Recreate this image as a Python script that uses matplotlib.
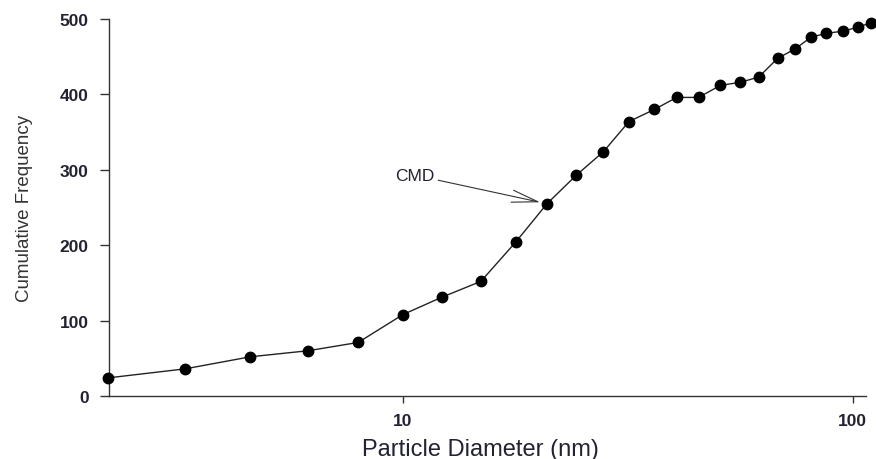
import matplotlib
matplotlib.use("Agg")
import matplotlib.pyplot as plt
from matplotlib.ticker import FixedLocator, NullLocator

plt.rcParams['font.family'] = ['Liberation Sans', 'DejaVu Sans']

# Data
diameter_nm = [2.21, 3.28, 4.58, 6.15, 7.95, 10.0, 12.2, 14.9, 17.8, 20.9,
               24.3, 27.9, 31.8, 36.2, 40.6, 45.4, 50.8, 56.2, 61.8, 68.1,
               74.3, 80.8, 87.4, 95.3, 102.5, 109.8]
cum_freq = [24, 36, 52, 60, 71, 108, 131, 152, 204, 255,
            293, 324, 364, 380, 396, 396, 412, 416, 423, 448,
            460, 476, 481, 484, 489, 495]
x_ticks = [10, 100]
x_tick_labels = ["10", "100"]
y_ticks = [0, 100, 200, 300, 400, 500]
cmd_index = 9

fig = plt.figure(figsize=(8.76, 4.6), dpi=100)
ax = fig.add_axes([0.1244, 0.137, 0.8642, 0.8195])

ax.plot(diameter_nm, cum_freq, color='#222222', lw=1.0, marker='o',
        markersize=7.5, markerfacecolor='black', markeredgecolor='black',
        clip_on=False, zorder=3)

ax.set_xscale('log')
ax.set_xlim(2.22, 107)
ax.set_ylim(0, 500)
ax.xaxis.set_major_locator(FixedLocator(x_ticks))
ax.xaxis.set_minor_locator(NullLocator())
ax.set_xticklabels(x_tick_labels)
ax.set_yticks(y_ticks)

for s in ['top', 'right']:
    ax.spines[s].set_visible(False)
for s in ['left', 'bottom']:
    ax.spines[s].set_color('#333333')
    ax.spines[s].set_linewidth(1.0)

ax.tick_params(axis='y', direction='out', length=6.5, width=1,
               color='#333333', labelsize=12.5, labelcolor='#222233', pad=8)
ax.tick_params(axis='x', direction='out', length=5, width=1,
               color='#333333', labelsize=12.5, labelcolor='#222233', pad=7)
for lbl in ax.get_xticklabels() + ax.get_yticklabels():
    lbl.set_fontweight('bold')

ax.set_xlabel("Particle Diameter (nm)", fontsize=17, color='#222233')
ax.set_ylabel("Cumulative Frequency", fontsize=13.5, color='#333333')
ax.xaxis.set_label_coords(0.4905, -0.112)
ax.yaxis.set_label_coords(-0.101, 0.5)

# CMD annotation
ax.annotate("CMD", xy=(diameter_nm[cmd_index], cum_freq[cmd_index]),
            xytext=(10.6, 293), textcoords='data', fontsize=12.5,
            color='#222233', ha='center', va='center',
            arrowprops=dict(arrowstyle='->,head_length=1.5,head_width=0.35',
                            color='#333333', lw=0.8,
                            shrinkA=1, shrinkB=5))

fig.savefig("out.png", dpi=100)
